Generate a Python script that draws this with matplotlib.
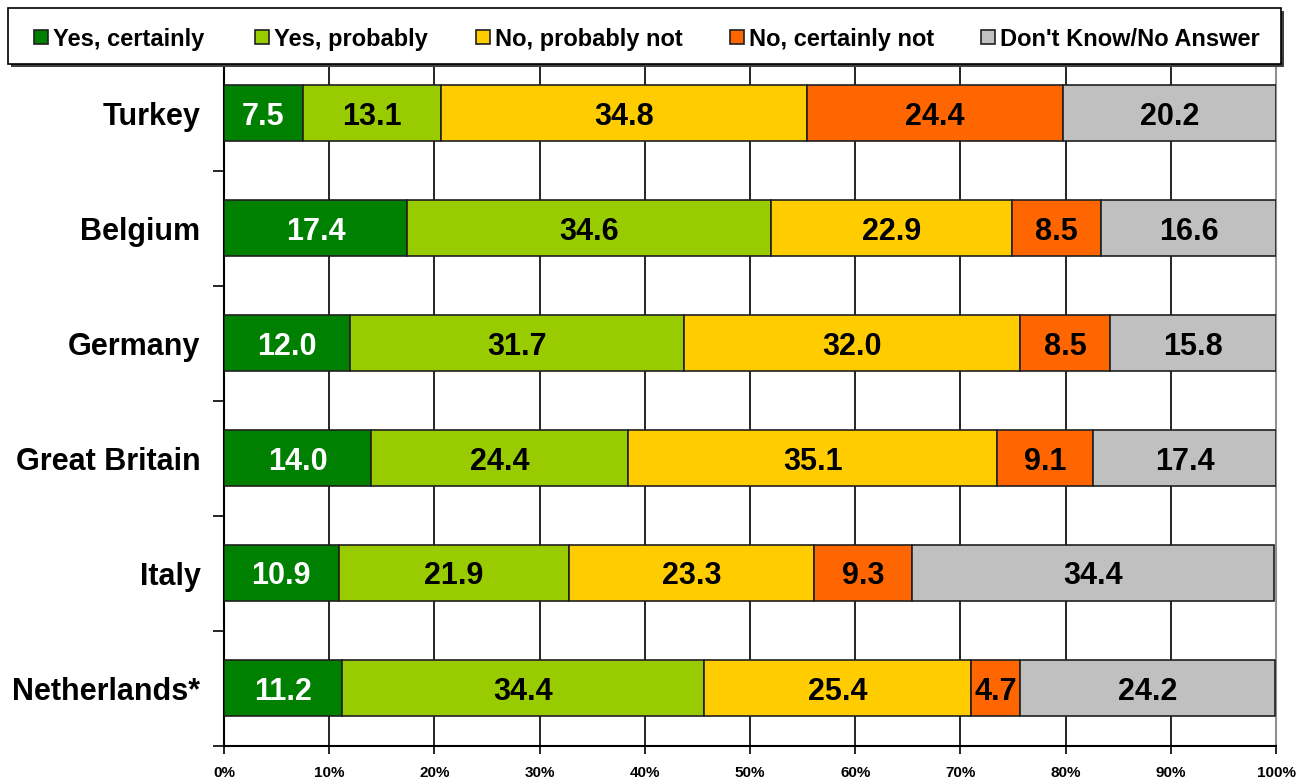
import matplotlib
matplotlib.use("Agg")
import matplotlib.pyplot as plt
from matplotlib.patches import Rectangle

countries = ["Turkey", "Belgium", "Germany", "Great Britain", "Italy", "Netherlands*"]
series_names = ["Yes, certainly", "Yes, probably", "No, probably not",
                "No, certainly not", "Don't Know/No Answer"]
yes_certainly = [7.5, 17.4, 12.0, 14.0, 10.9, 11.2]
yes_probably = [13.1, 34.6, 31.7, 24.4, 21.9, 34.4]
no_probably_not = [34.8, 22.9, 32.0, 35.1, 23.3, 25.4]
no_certainly_not = [24.4, 8.5, 8.5, 9.1, 9.3, 4.7]
dont_know = [20.2, 16.6, 15.8, 17.4, 34.4, 24.2]
x_ticks = [0, 10, 20, 30, 40, 50, 60, 70, 80, 90, 100]
x_tick_labels = [f"{t}%" for t in x_ticks]

series = [yes_certainly, yes_probably, no_probably_not, no_certainly_not, dont_know]
colors = ["#008000", "#99CC00", "#FFCC00", "#FF6600", "#C0C0C0"]
text_colors = ["white", "black", "black", "black", "black"]

plt.rcParams["font.family"] = ["Liberation Sans", "DejaVu Sans"]
plt.rcParams["font.weight"] = "bold"

W, H = 1309, 781
fig = plt.figure(figsize=(W / 100, H / 100), dpi=100)
ax = fig.add_axes([224 / W, 1 - 745.5 / H, (1276 - 224) / W, (745.5 - 55.5) / H])

ypos = list(range(len(countries)))
left = [0.0] * len(countries)
for vals, col, tcol in zip(series, colors, text_colors):
    ax.barh(ypos, vals, left=left, height=0.49, color=col,
            edgecolor="#202020", linewidth=1.2, zorder=3)
    for y, v, l in zip(ypos, vals, left):
        ax.text(l + v / 2, y, f"{v:.1f}", ha="center", va="center_baseline",
                color=tcol, fontsize=22, fontweight="bold", zorder=4)
    left = [l + v for l, v in zip(left, vals)]

ax.set_xlim(0, 100)
ax.set_ylim(len(countries) - 0.5, -0.5)
ax.set_xticks(x_ticks)
ax.set_xticklabels(x_tick_labels, fontsize=11, fontweight="bold")
ax.xaxis.grid(True, color="black", linewidth=1.2, zorder=0)
ax.set_axisbelow(True)

# Category names sit between the boundary tick marks
ax.set_yticks([y + 0.5 for y in ypos])
ax.set_yticklabels([])
ax.set_yticks(ypos, minor=True)
ax.set_yticklabels(countries, minor=True, fontsize=22, fontweight="bold")
ax.tick_params(axis="y", which="minor", length=0, pad=17)
ax.tick_params(axis="y", which="major", length=8, width=1.2)
ax.tick_params(axis="x", length=6, width=1.2, pad=9)

ax.spines["top"].set_visible(False)
ax.spines["right"].set_color("#909090")
ax.spines["right"].set_linewidth(1.5)
ax.spines["left"].set_linewidth(1.5)
ax.spines["bottom"].set_linewidth(1.5)

# Legend panel across the top, with a drop shadow
box_l, box_t, box_r, box_b = 8, 8, 1281, 64
fig.patches.append(Rectangle(((box_l + 3) / W, 1 - (box_b + 3) / H),
                             (box_r - box_l) / W, (box_b - box_t) / H,
                             transform=fig.transFigure, facecolor="#404040",
                             edgecolor="none", zorder=5))
fig.patches.append(Rectangle((box_l / W, 1 - box_b / H),
                             (box_r - box_l) / W, (box_b - box_t) / H,
                             transform=fig.transFigure, facecolor="white",
                             edgecolor="black", linewidth=1.2, zorder=6))
legend_x = [34, 255, 476, 730, 981]
for xpx, name, col in zip(legend_x, series_names, colors):
    fig.patches.append(Rectangle((xpx / W, 1 - 44 / H), 14 / W, 14 / H,
                                 transform=fig.transFigure, facecolor=col,
                                 edgecolor="#202020", linewidth=1.2, zorder=7))
    fig.text((xpx + 19) / W, 1 - 37 / H, name, ha="left", va="center_baseline",
             fontsize=17, fontweight="bold", zorder=8)

fig.savefig("out.png", dpi=100)
